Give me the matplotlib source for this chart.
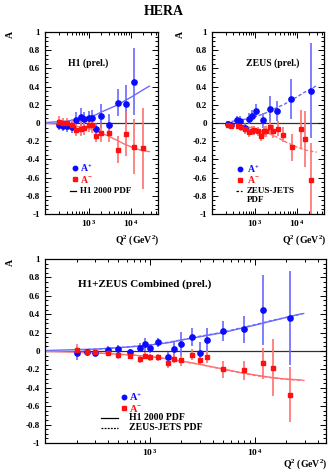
import matplotlib
matplotlib.use("Agg")
from matplotlib import pyplot as plt
from matplotlib.ticker import MultipleLocator, LogLocator, NullFormatter

plt.rcParams['font.family'] = ['Liberation Serif', 'DejaVu Serif']
plt.rcParams['font.weight'] = 'bold'
plt.rcParams['mathtext.fontset'] = 'custom'
plt.rcParams['mathtext.rm'] = 'Liberation Serif:bold'
plt.rcParams['mathtext.bf'] = 'Liberation Serif:bold'
plt.rcParams['mathtext.it'] = 'Liberation Serif:bold:italic'
plt.rcParams['mathtext.default'] = 'rm'

###############################################################################
# data

# H1 (prel.)
h1_q_plus = [200, 250, 300, 400, 500, 650, 800, 1000, 1200, 1500, 2000, 3000, 5000, 8000, 12000]
h1_a_plus = [-0.02, -0.03, -0.035, -0.045, 0.03, 0.065, 0.045, 0.05, 0.06, -0.07, 0.075, -0.02, 0.225, 0.205, 0.455]
h1_e_plus = [0.06, 0.06, 0.06, 0.06, 0.09, 0.1, 0.08, 0.08, 0.08, 0.07, 0.13, 0.12, 0.145, 0.21, 0.37]

h1_q_minus = [200, 250, 300, 400, 500, 650, 800, 1000, 1200, 1500, 2000, 3000, 5000, 8000, 12000, 20000]
h1_a_minus = [0.01, 0.0, -0.005, -0.02, -0.075, -0.065, -0.055, -0.02, -0.025, -0.14, -0.11, -0.105, -0.295, -0.12, -0.26, -0.28]
h1_e_minus = [0.07, 0.06, 0.06, 0.06, 0.07, 0.08, 0.08, 0.08, 0.08, 0.07, 0.1, 0.1, 0.15, 0.24, 0.3, 0.44]

# ZEUS (prel.)
zeus_q_plus = [220, 260, 360, 440, 580, 720, 820, 1070, 1580, 2240, 3400, 7400, 21400]
zeus_a_plus = [-0.007, -0.018, 0.03, 0.025, -0.055, 0.047, 0.08, 0.135, 0.03, 0.156, 0.127, 0.265, 0.356]
zeus_e_plus = [0.03, 0.03, 0.05, 0.05, 0.05, 0.06, 0.06, 0.07, 0.08, 0.14, 0.11, 0.22, 0.52]

zeus_q_minus = [220, 260, 380, 460, 580, 720, 820, 950, 1140, 1370, 1640, 1860, 2280, 2730, 3600, 4700, 7800, 12900, 15800, 21400]
zeus_a_minus = [-0.02, -0.03, -0.03, -0.044, -0.07, -0.1, -0.085, -0.08, -0.09, -0.14, -0.09, -0.09, -0.047, -0.09, -0.062, -0.128, -0.267, -0.062, -0.176, -0.63]
zeus_e_minus = [0.03, 0.03, 0.04, 0.04, 0.05, 0.05, 0.05, 0.05, 0.05, 0.06, 0.06, 0.06, 0.07, 0.07, 0.08, 0.08, 0.15, 0.21, 0.31, 0.41]

# H1+ZEUS Combined (prel.)
comb_q_plus = [200, 250, 300, 400, 500, 650, 800, 900, 1000, 1200, 1500, 1700, 2000, 2500, 3000, 3500, 5000, 8000, 12000, 22000]
comb_a_plus = [-0.025, -0.015, -0.025, 0.01, 0.02, -0.015, 0.035, 0.075, 0.03, 0.095, -0.07, 0.02, 0.075, 0.155, -0.025, 0.12, 0.22, 0.235, 0.45, 0.355]
comb_e_plus = [0.07, 0.03, 0.03, 0.04, 0.04, 0.04, 0.05, 0.07, 0.05, 0.05, 0.06, 0.08, 0.13, 0.1, 0.12, 0.13, 0.11, 0.15, 0.38, 0.51]

comb_q_minus = [200, 250, 300, 400, 500, 650, 800, 900, 1000, 1200, 1500, 1700, 2000, 2500, 3000, 3500, 5000, 8000, 12000, 15000, 22000]
comb_a_minus = [0.01, -0.015, -0.015, -0.025, -0.045, -0.05, -0.09, -0.05, -0.07, -0.07, -0.135, -0.085, -0.1, -0.04, -0.095, -0.065, -0.2, -0.21, -0.135, -0.18, -0.475]
comb_e_minus = [0.07, 0.03, 0.03, 0.03, 0.04, 0.04, 0.04, 0.04, 0.04, 0.04, 0.05, 0.05, 0.06, 0.06, 0.06, 0.07, 0.09, 0.1, 0.17, 0.31, 0.3]

# PDF predictions
h1pdf_q = [100, 200, 300, 500, 700, 1000, 1500, 2000, 3000, 5000, 7000, 10000, 15000, 20000, 28000]
h1pdf_plus = [0.005, 0.015, 0.02, 0.036, 0.048, 0.065, 0.09, 0.12, 0.155, 0.2, 0.24, 0.28, 0.33, 0.365, 0.405]
h1pdf_minus = [-0.005, -0.012, -0.02, -0.035, -0.045, -0.06, -0.085, -0.11, -0.145, -0.195, -0.23, -0.26, -0.29, -0.305, -0.315]

zeuspdf_q = [200, 300, 500, 700, 1000, 1500, 2000, 3000, 5000, 7000, 10000, 15000, 20000, 30000]
zeuspdf_plus = [0.012, 0.02, 0.035, 0.05, 0.068, 0.095, 0.12, 0.16, 0.205, 0.245, 0.285, 0.335, 0.365, 0.41]
zeuspdf_minus = [-0.015, -0.02, -0.035, -0.045, -0.062, -0.088, -0.11, -0.145, -0.2, -0.232, -0.265, -0.293, -0.308, -0.32]

xtick_vals = [1e3, 1e4]
xtick_labels = ['10$^{\\,3}$', '10$^{\\,4}$']

###############################################################################

BLUE = '#0a0aff'
BLUE_LT = '#6a6aff'
RED = '#ff1010'
RED_LT = '#ff7070'


def setup(ax, xlim):
    ax.set_xscale('log')
    ax.set_xlim(*xlim)
    ax.set_ylim(-1, 1)
    ax.axhline(0, color='#303030', lw=0.9, zorder=1)
    ax.yaxis.set_minor_locator(MultipleLocator(0.05))
    ax.set_yticks([-1, -0.8, -0.6, -0.4, -0.2, 0, 0.2, 0.4, 0.6, 0.8, 1],
                  ['-1', '-0.8', '-0.6', '-0.4', '-0.2', '0', '0.2', '0.4', '0.6', '0.8', '1'])
    ax.set_xticks(xtick_vals, xtick_labels)
    ax.xaxis.set_minor_locator(LogLocator(base=10, subs=range(2, 10)))
    ax.xaxis.set_minor_formatter(NullFormatter())
    ax.tick_params(which='both', direction='in', top=True, right=True, labelsize=6.5, width=0.7)
    ax.tick_params(which='major', length=4)
    ax.tick_params(which='minor', length=2)
    ax.tick_params(axis='x', pad=3, labelsize=6.8)
    for s in ax.spines.values():
        s.set_linewidth(0.9)


def points(ax, q, a, e, col, lt, mk, ms):
    ax.errorbar(q, a, yerr=e, fmt='none', ecolor=lt, elinewidth=1.2, capsize=0, zorder=2)
    ax.plot(q, a, mk, color=col, ms=ms, mec=col, zorder=3, clip_on=False)


fig = plt.figure(figsize=(3.28, 4.73), dpi=100)
fig.text(0.5, 0.975, 'HERA', ha='center', va='center', fontsize=10, fontweight='bold')

# --- H1
ax1 = fig.add_axes([0.1372, 0.5476, 0.3445, 0.3848])
setup(ax1, (92, 45000))
ax1.plot(h1pdf_q, h1pdf_plus, '-', color=BLUE_LT, lw=1.0)
ax1.plot(h1pdf_q, h1pdf_minus, '-', color=RED_LT, lw=1.0)
points(ax1, h1_q_plus, h1_a_plus, h1_e_plus, BLUE, BLUE_LT, 'o', 3.8)
points(ax1, h1_q_minus, h1_a_minus, h1_e_minus, RED, RED_LT, 's', 3.4)
ax1.text(0.2, 0.83, 'H1 (prel.)', transform=ax1.transAxes, fontsize=7, va='center')
ax1.plot([0.265], [0.253], 'o', color=BLUE, ms=3.2, transform=ax1.transAxes)
ax1.text(0.31, 0.253, 'A$^{+}$', color=BLUE, transform=ax1.transAxes, fontsize=7, va='center')
ax1.plot([0.265], [0.19], 's', color=RED, ms=3, transform=ax1.transAxes)
ax1.text(0.31, 0.19, 'A$^{-}$', color=RED, transform=ax1.transAxes, fontsize=7, va='center')
ax1.plot([0.22, 0.27], [0.126, 0.126], '-', color='black', lw=0.9, transform=ax1.transAxes)
ax1.text(0.31, 0.126, 'H1 2000 PDF', transform=ax1.transAxes, fontsize=6.5, va='center')

# --- ZEUS
ax2 = fig.add_axes([0.6463, 0.5476, 0.3415, 0.3848])
setup(ax2, (92, 45000))
ax2.plot(zeuspdf_q, zeuspdf_plus, '--', color=BLUE_LT, lw=1.0, dashes=(2.5, 1.5))
ax2.plot(zeuspdf_q, zeuspdf_minus, '--', color=RED_LT, lw=1.0, dashes=(2.5, 1.5))
points(ax2, zeus_q_plus, zeus_a_plus, zeus_e_plus, BLUE, BLUE_LT, 'o', 3.8)
points(ax2, zeus_q_minus, zeus_a_minus, zeus_e_minus, RED, RED_LT, 's', 3.4)
ax2.text(0.3, 0.83, 'ZEUS (prel.)', transform=ax2.transAxes, fontsize=7, va='center')
ax2.plot([0.25], [0.247], 'o', color=BLUE, ms=3.2, transform=ax2.transAxes)
ax2.text(0.31, 0.247, 'A$^{+}$', color=BLUE, transform=ax2.transAxes, fontsize=7, va='center')
ax2.plot([0.25], [0.187], 's', color=RED, ms=3, transform=ax2.transAxes)
ax2.text(0.31, 0.187, 'A$^{-}$', color=RED, transform=ax2.transAxes, fontsize=7, va='center')
ax2.plot([0.21, 0.27], [0.126, 0.126], '--', color='black', lw=0.9, dashes=(2, 1.5), transform=ax2.transAxes)
ax2.text(0.31, 0.126, 'ZEUS-JETS', transform=ax2.transAxes, fontsize=6.5, va='center')
ax2.text(0.31, 0.077, 'PDF', transform=ax2.transAxes, fontsize=6.5, va='center')

# --- combined
ax3 = fig.add_axes([0.1372, 0.0634, 0.8567, 0.389])
setup(ax3, (100, 48000))
ax3.plot(h1pdf_q, h1pdf_plus, '-', color=BLUE_LT, lw=1.0)
ax3.plot(h1pdf_q, h1pdf_minus, '-', color=RED_LT, lw=1.0)
ax3.plot(zeuspdf_q, zeuspdf_plus, '--', color=BLUE_LT, lw=1.0, dashes=(2.5, 1.5))
ax3.plot(zeuspdf_q, zeuspdf_minus, '--', color=RED_LT, lw=1.0, dashes=(2.5, 1.5))
points(ax3, comb_q_plus, comb_a_plus, comb_e_plus, BLUE, BLUE_LT, 'o', 3.8)
points(ax3, comb_q_minus, comb_a_minus, comb_e_minus, RED, RED_LT, 's', 3.4)
ax3.text(0.118, 0.865, 'H1+ZEUS Combined (prel.)', transform=ax3.transAxes, fontsize=8, va='center')
ax3.plot([0.28], [0.25], 'o', color=BLUE, ms=3.2, transform=ax3.transAxes)
ax3.text(0.3, 0.25, 'A$^{+}$', color=BLUE, transform=ax3.transAxes, fontsize=7.5, va='center')
ax3.plot([0.28], [0.19], 's', color=RED, ms=3, transform=ax3.transAxes)
ax3.text(0.3, 0.19, 'A$^{-}$', color=RED, transform=ax3.transAxes, fontsize=7.5, va='center')
ax3.plot([0.2, 0.26], [0.136, 0.136], '-', color='black', lw=0.9, transform=ax3.transAxes)
ax3.text(0.3, 0.136, 'H1 2000 PDF', transform=ax3.transAxes, fontsize=7, va='center')
ax3.plot([0.2, 0.26], [0.082, 0.082], '--', color='black', lw=0.9, dashes=(1.5, 1), transform=ax3.transAxes)
ax3.text(0.3, 0.082, 'ZEUS-JETS PDF', transform=ax3.transAxes, fontsize=7, va='center')

# axis titles
for x, y in [(10, 35), (180, 35), (10, 263)]:
    fig.text(x / 328, 1 - y / 473, 'A', rotation=90, ha='center', va='center', fontsize=7)
for x, y in [(159, 240), (326, 240), (327, 464)]:
    fig.text(x / 328, 1 - y / 473, 'Q$^{2}$ (GeV$^{2}$)', ha='right', va='center', fontsize=7)

plt.savefig('out.png', dpi=100)
